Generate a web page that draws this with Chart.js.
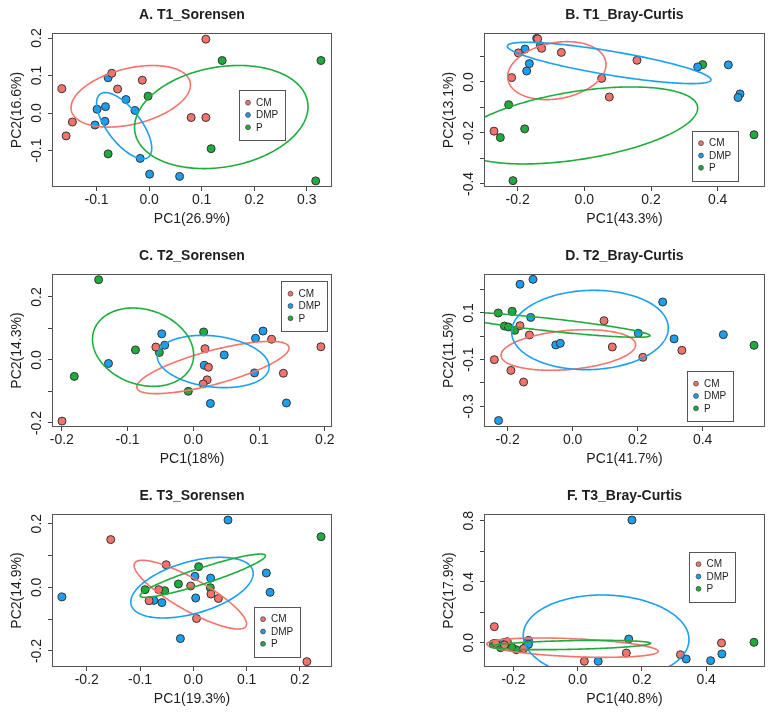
<!DOCTYPE html>
<html>
<head>
<meta charset="utf-8">
<script src="https://cdn.jsdelivr.net/npm/chart.js@4.4.0/dist/chart.umd.min.js"></script>
<style>
  html, body { margin: 0; padding: 0; background: #fff; }
  #wrap { position: relative; width: 774px; height: 713px; }
  #wrap canvas { position: absolute; }
</style>
</head>
<body>
<div id="wrap"></div>
<script>
// ---------- groups ----------
const GROUPS = ['CM', 'DMP', 'P'];

// ---------- A. T1_Sorensen ----------
const A_CM  = [[0.108,0.197],[-0.071,0.106],[-0.013,0.0875],[-0.166,0.065],[-0.060,0.064],[-0.146,-0.024],[-0.158,-0.061],[0.080,-0.012],[0.108,-0.012]];
const A_DMP = [[-0.078,0.094],[-0.044,0.036],[-0.099,0.010],[-0.083,0.017],[-0.027,0.007],[-0.084,-0.022],[-0.103,-0.032],[-0.017,-0.121],[0.001,-0.163],[0.058,-0.169]];
const A_P   = [[0.139,0.140],[0.327,0.140],[-0.002,0.045],[-0.078,-0.109],[0.118,-0.095],[0.317,-0.181]];
// ellipse per group: centre x, centre y, half-range x, half-range y, correlation
const A_ELL = [[-0.035,0.0446,0.1136,0.0821,0.37],[-0.0475,-0.0339,0.0525,0.0884,-0.68],[0.1373,-0.0107,0.165,0.1375,0.2]];
const A_XLIM = [-0.1848, 0.348],  A_YLIM = [-0.1973, 0.2134];
const A_XTICKS = [-0.1, 0, 0.1, 0.2, 0.3], A_XLAB = A_XTICKS;
const A_YTICKS = [-0.1, 0, 0.1, 0.2],      A_YLAB = A_YTICKS;

// ---------- B. T1_Bray-Curtis ----------
const B_CM  = [[-0.140,0.169],[-0.128,0.132],[-0.198,0.114],[-0.069,0.116],[0.158,0.085],[-0.218,0.017],[0.052,0.014],[0.075,-0.059],[-0.271,-0.193]];
const B_DMP = [[-0.143,0.171],[-0.178,0.129],[-0.132,0.142],[-0.165,0.072],[-0.173,0.043],[0.340,0.059],[0.432,0.067],[0.467,-0.047],[0.461,-0.061]];
const B_P   = [[0.355,0.068],[-0.227,-0.089],[-0.179,-0.184],[-0.252,-0.218],[0.509,-0.207],[-0.214,-0.387]];
const B_ELL = [[-0.0825,0.0444,0.1475,0.1137,0.21],[0.0745,0.0745,0.3055,0.081,-0.81],[-0.02,-0.1706,0.36,0.151,0.45]];
const B_XLIM = [-0.301, 0.542], B_YLIM = [-0.412, 0.192];
const B_XTICKS = [-0.2, 0, 0.2, 0.4], B_XLAB = B_XTICKS;
const B_YTICKS = [-0.4, -0.3, -0.2, -0.1, 0, 0.1], B_YLAB = [-0.4, -0.2, 0];

// ---------- C. T2_Sorensen ----------
const C_CM  = [[-0.1997,-0.194],[-0.057,0.041],[0.0177,0.036],[0.119,0.066],[0.194,0.042],[0.023,-0.023],[0.021,-0.063],[0.015,-0.076],[0.137,-0.042]];
const C_DMP = [[-0.048,0.083],[-0.0435,0.047],[-0.129,-0.011],[0.0167,-0.017],[0.047,0.016],[0.0946,0.069],[0.106,0.092],[0.093,-0.041],[0.026,-0.138],[0.1416,-0.1365]];
const C_P   = [[-0.144,0.255],[-0.181,-0.052],[-0.088,0.032],[-0.0516,0.024],[0.0157,0.089],[-0.0076,-0.0995]];
const C_ELL = [[0.0298,-0.0238,0.1158,0.083,0.745],[0.0303,-0.0048,0.085,0.083,-0.2],[-0.0764,0.0407,0.0769,0.1243,-0.2]];
const C_XLIM = [-0.2149, 0.2109], C_YLIM = [-0.2127, 0.273];
const C_XTICKS = [-0.2, -0.1, 0, 0.1, 0.2], C_XLAB = C_XTICKS;
const C_YTICKS = [-0.2, -0.1, 0, 0.1, 0.2], C_YLAB = [-0.2, 0, 0.2];

// ---------- D. T2_Bray-Curtis ----------
const D_CM  = [[-0.162,0.0457],[-0.133,0.0057],[0.0964,0.067],[0.122,-0.0457],[-0.241,-0.1],[-0.19,-0.146],[-0.151,-0.196],[0.216,-0.09],[0.336,-0.06]];
const D_DMP = [[-0.162,0.223],[-0.122,0.244],[-0.129,0.081],[-0.052,-0.037],[-0.038,-0.03],[0.202,0.0129],[0.277,0.147],[0.312,-0.011],[0.4636,0.0071],[-0.228,-0.361]];
const D_P   = [[-0.229,0.1],[-0.186,0.107],[-0.210,0.044],[-0.198,0.04],[-0.178,0.0257],[0.558,-0.0386]];
const D_ELL = [[-0.0133,-0.0586,0.207,0.087,0.26],[0.0533,0.0271,0.241,0.17,0.05],[-0.074,0.05,0.312,0.0542,-0.867]];
const D_XLIM = [-0.2728, 0.5918], D_YLIM = [-0.3886, 0.267];
const D_XTICKS = [-0.2, 0, 0.2, 0.4], D_XLAB = D_XTICKS;
const D_YTICKS = [-0.3, -0.2, -0.1, 0, 0.1, 0.2], D_YLAB = [-0.3, -0.1, 0.1];

// ---------- E. T3_Sorensen ----------
const E_CM  = [[-0.155,0.150],[-0.051,0.071],[-0.065,-0.0073],[-0.083,-0.042],[-0.005,0.0042],[0.033,-0.021],[0.047,-0.035],[0.006,-0.098],[0.213,-0.2335]];
const E_DMP = [[-0.2465,-0.030],[-0.074,-0.041],[-0.059,-0.048],[0.003,0.0346],[0.0044,-0.0335],[0.0324,0.029],[-0.0243,-0.161],[0.065,0.2115],[0.137,0.045],[0.144,-0.0157]];
const E_P   = [[-0.0905,-0.0073],[-0.0537,-0.0105],[-0.028,0.0105],[0.010,0.065],[0.0318,-0.001],[0.2396,0.159]];
const E_ELL = [[-0.0056,-0.023,0.1055,0.108,-0.85],[-0.0025,-0.001,0.1148,0.0953,0.47],[0.0178,0.0366,0.1176,0.068,0.92]];
const E_XLIM = [-0.2652, 0.2602], E_YLIM = [-0.2503, 0.2304];
const E_XTICKS = [-0.2, -0.1, 0, 0.1, 0.2], E_XLAB = E_XTICKS;
const E_YTICKS = [-0.2, -0.1, 0, 0.1, 0.2], E_YLAB = [-0.2, 0, 0.2];

// ---------- F. T3_Bray-Curtis ----------
const F_CM  = [[-0.2595,0.105],[0.0208,-0.122],[0.1515,-0.068],[0.32,-0.079],[0.448,-0.002],[-0.219,0.0066],[-0.168,-0.039],[-0.255,-0.005],[-0.228,-0.015]];
const F_DMP = [[0.169,0.804],[0.159,0.024],[0.064,-0.122],[0.338,-0.107],[0.414,-0.118],[0.449,-0.074],[-0.2314,0],[-0.153,0.015],[-0.153,-0.011],[-0.225,-0.01]];
const F_P   = [[0.549,0.002],[-0.2626,-0.0066],[-0.24,-0.033],[-0.191,-0.046],[-0.205,-0.03],[-0.16,-0.02]];
const F_ELL = [[-0.016,-0.0328,0.267,0.0634,-0.38],[0.0887,0.0346,0.258,0.278,-0.05],[-0.0228,-0.0153,0.25,0.0306,0.36]];
const F_XLIM = [-0.2916, 0.5833], F_YLIM = [-0.1596, 0.8437];
const F_XTICKS = [-0.2, 0, 0.2, 0.4], F_XLAB = F_XTICKS;
const F_YTICKS = [0, 0.2, 0.4, 0.6, 0.8], F_YLAB = [0, 0.4, 0.8];

const TITLES  = ['A. T1_Sorensen', 'B. T1_Bray-Curtis', 'C. T2_Sorensen', 'D. T2_Bray-Curtis', 'E. T3_Sorensen', 'F. T3_Bray-Curtis'];
const XTITLES = ['PC1(26.9%)', 'PC1(43.3%)', 'PC1(18%)', 'PC1(41.7%)', 'PC1(19.3%)', 'PC1(40.8%)'];
const YTITLES = ['PC2(16.6%)', 'PC2(13.1%)', 'PC2(14.3%)', 'PC2(11.5%)', 'PC2(14.9%)', 'PC2(17.9%)'];

// ---------- look & layout ----------
const COLORS = { CM: '#F4736B', DMP: '#1C9FEF', P: '#1EAC3C' };
const FONT = "'Liberation Sans', Arial, Helvetica, sans-serif";
const INK = '#1e1e1e';
const FRAME = '#555';

// canvas rectangle [left, top, width, height], plot box [left, top, right, bottom], legend top-left
const LAYOUT = [
  { cv: [0,   0,   387, 240], box: [52,  33,  332, 187], leg: [238.5, 90] },
  { cv: [387, 0,   387, 240], box: [484, 33,  765, 187], leg: [691.5, 130.5] },
  { cv: [0,   240, 387, 240], box: [52,  274, 332, 427], leg: [281, 281] },
  { cv: [387, 240, 387, 240], box: [484, 274, 765, 427], leg: [686.5, 371] },
  { cv: [0,   480, 387, 233], box: [52,  514, 332, 667], leg: [253.5, 606.5] },
  { cv: [387, 480, 387, 233], box: [484, 514, 765, 667], leg: [689, 551.5] },
];

const PANELS = [
  { pts: [A_CM, A_DMP, A_P], ell: A_ELL, xlim: A_XLIM, ylim: A_YLIM, xt: A_XTICKS, xl: A_XLAB, yt: A_YTICKS, yl: A_YLAB },
  { pts: [B_CM, B_DMP, B_P], ell: B_ELL, xlim: B_XLIM, ylim: B_YLIM, xt: B_XTICKS, xl: B_XLAB, yt: B_YTICKS, yl: B_YLAB },
  { pts: [C_CM, C_DMP, C_P], ell: C_ELL, xlim: C_XLIM, ylim: C_YLIM, xt: C_XTICKS, xl: C_XLAB, yt: C_YTICKS, yl: C_YLAB },
  { pts: [D_CM, D_DMP, D_P], ell: D_ELL, xlim: D_XLIM, ylim: D_YLIM, xt: D_XTICKS, xl: D_XLAB, yt: D_YTICKS, yl: D_YLAB },
  { pts: [E_CM, E_DMP, E_P], ell: E_ELL, xlim: E_XLIM, ylim: E_YLIM, xt: E_XTICKS, xl: E_XLAB, yt: E_YTICKS, yl: E_YLAB },
  { pts: [F_CM, F_DMP, F_P], ell: F_ELL, xlim: F_XLIM, ylim: F_YLIM, xt: F_XTICKS, xl: F_XLAB, yt: F_YTICKS, yl: F_YLAB },
];

const fmt = (v) => (Math.abs(v) < 1e-9 ? 0 : v).toFixed(1);

// draws ellipses, frame, texts and the boxed legend (R base-graphics look)
const decor = {
  id: 'decor',
  afterDatasetsDraw(chart, args, o) {
    const { ctx, chartArea: a, scales: { x, y } } = chart;
    const p = PANELS[o.i];

    // ellipses, clipped to the plot region
    ctx.save();
    ctx.beginPath();
    ctx.rect(a.left, a.top, a.right - a.left, a.bottom - a.top);
    ctx.clip();
    ctx.lineWidth = 1.6;
    p.ell.forEach(([cx, cy, rx, ry, r], gi) => {
      const s = Math.sqrt(1 - r * r);
      ctx.strokeStyle = COLORS[GROUPS[gi]];
      ctx.beginPath();
      for (let k = 0; k <= 240; k++) {
        const t = k / 240 * Math.PI * 2;
        const px = x.getPixelForValue(cx + rx * Math.cos(t));
        const py = y.getPixelForValue(cy + ry * (r * Math.cos(t) + s * Math.sin(t)));
        if (k === 0) ctx.moveTo(px, py); else ctx.lineTo(px, py);
      }
      ctx.closePath();
      ctx.stroke();
    });
    ctx.restore();

    ctx.save();
    // frame
    ctx.strokeStyle = FRAME;
    ctx.lineWidth = 1;
    ctx.strokeRect(a.left + 0.5, a.top + 0.5, a.right - a.left - 1, a.bottom - a.top - 1);

    ctx.fillStyle = INK;
    ctx.textAlign = 'center';
    ctx.textBaseline = 'middle';
    const midX = (a.left + a.right) / 2, midY = (a.top + a.bottom) / 2;

    // title
    ctx.font = `bold 14px ${FONT}`;
    ctx.fillText(TITLES[o.i], midX, a.top - 18);

    // x tick labels + title
    ctx.font = `14px ${FONT}`;
    x.ticks.forEach((t) => {
      if (p.xl.some((v) => Math.abs(v - t.value) < 1e-9))
        ctx.fillText(fmt(t.value), x.getPixelForValue(t.value), a.bottom + 13);
    });
    ctx.fillText(XTITLES[o.i], midX, a.bottom + 32);

    // y tick labels (rotated, as in R) + title
    y.ticks.forEach((t) => {
      if (!p.yl.some((v) => Math.abs(v - t.value) < 1e-9)) return;
      ctx.save();
      ctx.translate(a.left - 15, y.getPixelForValue(t.value));
      ctx.rotate(-Math.PI / 2);
      ctx.fillText(fmt(t.value), 0, 0);
      ctx.restore();
    });
    ctx.save();
    ctx.translate(a.left - 34.5, midY);
    ctx.rotate(-Math.PI / 2);
    ctx.fillText(YTITLES[o.i], 0, 0);
    ctx.restore();

    // legend
    const L = LAYOUT[o.i];
    const lx = L.leg[0] - L.cv[0], ly = L.leg[1] - L.cv[1];
    ctx.fillStyle = '#fff';
    ctx.fillRect(lx, ly, 46.5, 50);
    ctx.strokeStyle = FRAME;
    ctx.strokeRect(Math.round(lx) + 0.5, Math.round(ly) + 0.5, 46, 50);
    ctx.font = `10px ${FONT}`;
    ctx.textAlign = 'left';
    chart.data.datasets.forEach((ds, k) => {
      const yy = ly + 12.7 + k * 12.3;
      ctx.beginPath();
      ctx.arc(lx + 9.5, yy, 2.4, 0, Math.PI * 2);
      ctx.fillStyle = ds.backgroundColor;
      ctx.fill();
      ctx.strokeStyle = '#444';
      ctx.lineWidth = 0.8;
      ctx.stroke();
      ctx.fillStyle = INK;
      ctx.fillText(ds.label, lx + 17.5, yy + 0.5);
    });
    ctx.restore();
  }
};

const wrap = document.getElementById('wrap');

PANELS.forEach((p, i) => {
  const L = LAYOUT[i];
  const [cl, ct, cw, chh] = L.cv;
  const [bl, bt, br, bb] = L.box;
  const cv = document.createElement('canvas');
  cv.width = cw; cv.height = chh;
  cv.style.left = cl + 'px'; cv.style.top = ct + 'px';
  cv.style.width = cw + 'px'; cv.style.height = chh + 'px';
  wrap.appendChild(cv);

  const tickGrid = { drawOnChartArea: false, drawTicks: true, tickLength: 4, color: '#444', lineWidth: 1 };

  new Chart(cv, {
    type: 'scatter',
    data: {
      datasets: GROUPS.map((g, gi) => ({
        label: g,
        data: p.pts[gi].map(([x, y]) => ({ x, y })),
        backgroundColor: COLORS[g],
        borderColor: '#333',
        borderWidth: 1,
        pointRadius: 4,
      })),
    },
    options: {
      responsive: false,
      animation: false,
      devicePixelRatio: 1,
      events: [],
      layout: { padding: { left: 0, top: bt - ct, right: cl + cw - br, bottom: 0 } },
      plugins: { legend: { display: false }, tooltip: { enabled: false }, decor: { i } },
      scales: {
        x: {
          type: 'linear', min: p.xlim[0], max: p.xlim[1],
          afterBuildTicks: (s) => { s.ticks = p.xt.map((v) => ({ value: v })); },
          afterFit: (s) => { s.height = ct + chh - bb; },
          ticks: { display: false },
          grid: tickGrid,
          border: { display: false },
        },
        y: {
          type: 'linear', min: p.ylim[0], max: p.ylim[1],
          afterBuildTicks: (s) => { s.ticks = p.yt.map((v) => ({ value: v })); },
          afterFit: (s) => { s.width = bl - cl; },
          ticks: { display: false },
          grid: tickGrid,
          border: { display: false },
        },
      },
    },
    plugins: [decor],
  });
});
</script>
</body>
</html>
